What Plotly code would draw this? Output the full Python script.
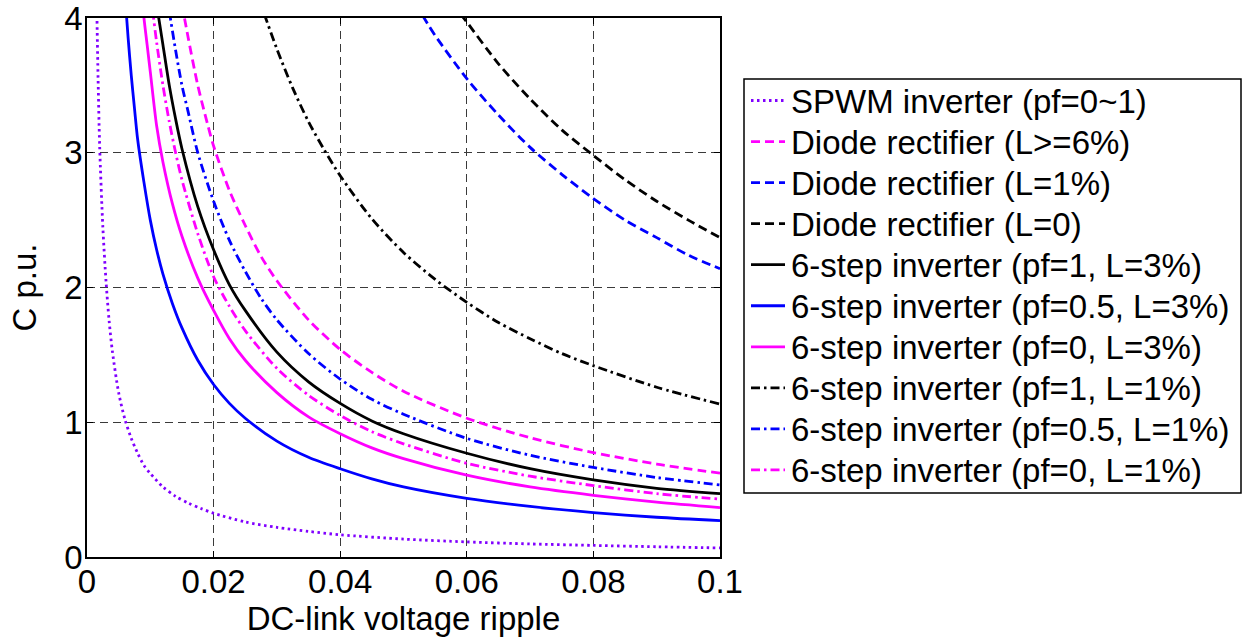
import plotly.graph_objects as go

# DC-link voltage ripple (p.u.) sample positions and required capacitance C (p.u.) per converter type
x_spwm = [0.0015, 0.00175, 0.002, 0.0025, 0.003, 0.0035, 0.004, 0.005, 0.006, 0.007, 0.008, 0.009, 0.01,
          0.012, 0.014, 0.016, 0.018, 0.02, 0.025, 0.03, 0.035, 0.04, 0.05, 0.06, 0.07, 0.08, 0.09, 0.1]
c_spwm = [4.2, 3.55, 3.05, 2.45, 2.05, 1.75, 1.53, 1.22, 1.02, 0.88, 0.77, 0.68, 0.62,
          0.52, 0.45, 0.4, 0.36, 0.325, 0.26, 0.22, 0.19, 0.165, 0.133, 0.112, 0.097, 0.086, 0.076, 0.067]

x_diode6 = [0.015, 0.016, 0.0175, 0.019, 0.02, 0.0225, 0.025, 0.0275, 0.03, 0.035, 0.04, 0.045, 0.05,
            0.06, 0.07, 0.08, 0.09, 0.1]
c_diode6 = [4.1, 3.85, 3.5, 3.22, 3.05, 2.72, 2.46, 2.23, 2.05, 1.76, 1.54, 1.37, 1.23,
            1.03, 0.885, 0.775, 0.69, 0.622]

x_diode1 = [0.053, 0.055, 0.06, 0.065, 0.07, 0.075, 0.08, 0.085, 0.09, 0.095, 0.1]
c_diode1 = [4.02, 3.87, 3.55, 3.28, 3.04, 2.84, 2.66, 2.5, 2.37, 2.24, 2.14]

x_diode0 = [0.059, 0.06, 0.065, 0.07, 0.075, 0.08, 0.085, 0.09, 0.095, 0.1]
c_diode0 = [4.03, 3.97, 3.66, 3.4, 3.17, 2.98, 2.8, 2.64, 2.5, 2.37]

x_pf1_l3 = [0.011, 0.0115, 0.012, 0.013, 0.014, 0.015, 0.0175, 0.02, 0.0225, 0.025, 0.03, 0.035, 0.04,
            0.045, 0.05, 0.06, 0.07, 0.08, 0.09, 0.1]
c_pf1_l3 = [4.1, 3.95, 3.8, 3.5, 3.25, 3.03, 2.6, 2.28, 2.02, 1.83, 1.52, 1.3, 1.14,
            1.01, 0.915, 0.77, 0.655, 0.572, 0.51, 0.47]

x_pf05_l3 = [0.006, 0.0065, 0.007, 0.0075, 0.008, 0.009, 0.01, 0.011, 0.012, 0.0135, 0.015, 0.0175, 0.02,
             0.0225, 0.025, 0.03, 0.035, 0.04, 0.045, 0.05, 0.06, 0.07, 0.08, 0.09, 0.1]
c_pf05_l3 = [4.17, 3.85, 3.57, 3.33, 3.1, 2.78, 2.5, 2.28, 2.1, 1.88, 1.7, 1.46, 1.28,
             1.14, 1.03, 0.86, 0.74, 0.655, 0.58, 0.52, 0.435, 0.375, 0.33, 0.295, 0.27]

x_pf0_l3 = [0.008, 0.0085, 0.009, 0.0095, 0.01, 0.011, 0.012, 0.0135, 0.015, 0.0175, 0.02, 0.0225, 0.025,
            0.03, 0.035, 0.04, 0.045, 0.05, 0.06, 0.07, 0.08, 0.09, 0.1]
c_pf0_l3 = [4.5, 4.25, 4.0, 3.8, 3.6, 3.2, 2.93, 2.62, 2.38, 2.07, 1.83, 1.62, 1.46,
            1.22, 1.04, 0.915, 0.81, 0.73, 0.607, 0.52, 0.458, 0.407, 0.367]

x_pf1_l1 = [0.028, 0.03, 0.0325, 0.035, 0.0375, 0.04, 0.045, 0.05, 0.055, 0.06, 0.065, 0.07, 0.075,
            0.08, 0.09, 0.1]
c_pf1_l1 = [4.03, 3.77, 3.48, 3.23, 3.02, 2.83, 2.51, 2.26, 2.06, 1.89, 1.74, 1.62, 1.51,
            1.42, 1.26, 1.135]

x_pf05_l1 = [0.013, 0.014, 0.015, 0.016, 0.0175, 0.02, 0.0225, 0.025, 0.0275, 0.03, 0.035, 0.04, 0.045,
             0.05, 0.06, 0.07, 0.08, 0.09, 0.1]
c_pf05_l1 = [4.05, 3.76, 3.5, 3.3, 3.0, 2.64, 2.35, 2.12, 1.92, 1.76, 1.51, 1.32, 1.17,
             1.06, 0.88, 0.755, 0.665, 0.59, 0.535]

x_pf0_l1 = [0.01, 0.011, 0.012, 0.013, 0.014, 0.015, 0.0175, 0.02, 0.0225, 0.025, 0.03, 0.035, 0.04,
            0.045, 0.05, 0.06, 0.07, 0.08, 0.09, 0.1]
c_pf0_l1 = [4.2, 3.82, 3.5, 3.23, 3.0, 2.8, 2.4, 2.08, 1.86, 1.68, 1.4, 1.2, 1.05,
            0.93, 0.84, 0.695, 0.6, 0.53, 0.47, 0.43]

x_ticks = [0, 0.02, 0.04, 0.06, 0.08, 0.1]
x_tick_text = ["0", "0.02", "0.04", "0.06", "0.08", "0.1"]
y_ticks = [0, 1, 2, 3, 4]

PURPLE = "#8000FF"
MAGENTA = "#FF00FF"
BLUE = "#0000FF"
BLACK = "#000000"

DOT = "2.5px,3.5px"
DASH = "9px,5px"
DASHDOT = "9px,4px,2.5px,4px"

series = [
    ("SPWM inverter (pf=0~1)", x_spwm, c_spwm, PURPLE, DOT),
    ("Diode rectifier (L>=6%)", x_diode6, c_diode6, MAGENTA, DASH),
    ("Diode rectifier (L=1%)", x_diode1, c_diode1, BLUE, DASH),
    ("Diode rectifier (L=0)", x_diode0, c_diode0, BLACK, DASH),
    ("6-step inverter (pf=1, L=3%)", x_pf1_l3, c_pf1_l3, BLACK, "solid"),
    ("6-step inverter (pf=0.5, L=3%)", x_pf05_l3, c_pf05_l3, BLUE, "solid"),
    ("6-step inverter (pf=0, L=3%)", x_pf0_l3, c_pf0_l3, MAGENTA, "solid"),
    ("6-step inverter (pf=1, L=1%)", x_pf1_l1, c_pf1_l1, BLACK, DASHDOT),
    ("6-step inverter (pf=0.5, L=1%)", x_pf05_l1, c_pf05_l1, BLUE, DASHDOT),
    ("6-step inverter (pf=0, L=1%)", x_pf0_l1, c_pf0_l1, MAGENTA, DASHDOT),
]

W, H = 1247, 642
L, R, T, B = 87, 527, 18, 85
PW, PH = W - L - R, H - T - B


def px(xp):
    """Horizontal pixel position -> paper coordinate."""
    return (xp - L) / PW


def py(yp):
    """Vertical pixel position (from top) -> paper coordinate."""
    return (H - B - yp) / PH


LW = 2.8
fig = go.Figure()
for name, xs, ys, color, dash in series:
    fig.add_trace(go.Scatter(
        x=xs, y=ys, name=name, mode="lines", showlegend=False,
        line=dict(color=color, width=LW, dash=dash, shape="spline", smoothing=0.8),
    ))

FONT = "Liberation Sans, Arial, Helvetica, sans-serif"
FS = 33

# Boxed legend to the right of the axes: sample line + label per series
shapes = [dict(type="rect", xref="paper", yref="paper",
               x0=px(744), x1=px(1241), y0=py(79), y1=py(493),
               line=dict(color="black", width=1.5), fillcolor="white", layer="above")]
annotations = []
row0, row_step = 100.5, 41.05
for i, (name, xs, ys, color, dash) in enumerate(series):
    yc = row0 + i * row_step
    shapes.append(dict(type="line", xref="paper", yref="paper",
                       x0=px(751), x1=px(785), y0=py(yc), y1=py(yc),
                       line=dict(color=color, width=LW, dash=dash), layer="above"))
    annotations.append(dict(xref="paper", yref="paper", x=px(789), y=py(yc + 0.5),
                            xanchor="left", yanchor="middle", showarrow=False,
                            text=name, font=dict(family=FONT, size=FS, color="black")))

axis_common = dict(
    showline=True, linecolor="black", linewidth=1.5, mirror="ticks",
    ticks="inside", ticklen=6, tickcolor="black",
    showgrid=True, gridcolor="#3a3a3a", gridwidth=1, griddash="8px,5px",
    zeroline=False, ticklabeloverflow="allow", automargin=False,
    tickfont=dict(family=FONT, size=FS, color="black"),
)

fig.update_layout(
    width=W, height=H,
    margin=dict(l=L, r=R, t=T, b=B, pad=0, autoexpand=False),
    paper_bgcolor="white", plot_bgcolor="white",
    font=dict(family=FONT, size=FS, color="black"),
    showlegend=False,
    shapes=shapes,
    annotations=annotations,
)
fig.update_xaxes(
    range=[0, 0.1], tickvals=x_ticks, ticktext=x_tick_text,
    ticklabelstandoff=-5,
    title=dict(text="DC-link voltage ripple", standoff=6,
               font=dict(family=FONT, size=FS, color="black")),
    **axis_common,
)
fig.update_yaxes(
    range=[0, 4], tickvals=y_ticks,
    ticklabelstandoff=-4,
    title=dict(text="C p.u.", standoff=18,
               font=dict(family=FONT, size=FS, color="black")),
    **axis_common,
)

fig.write_html("out.html")
